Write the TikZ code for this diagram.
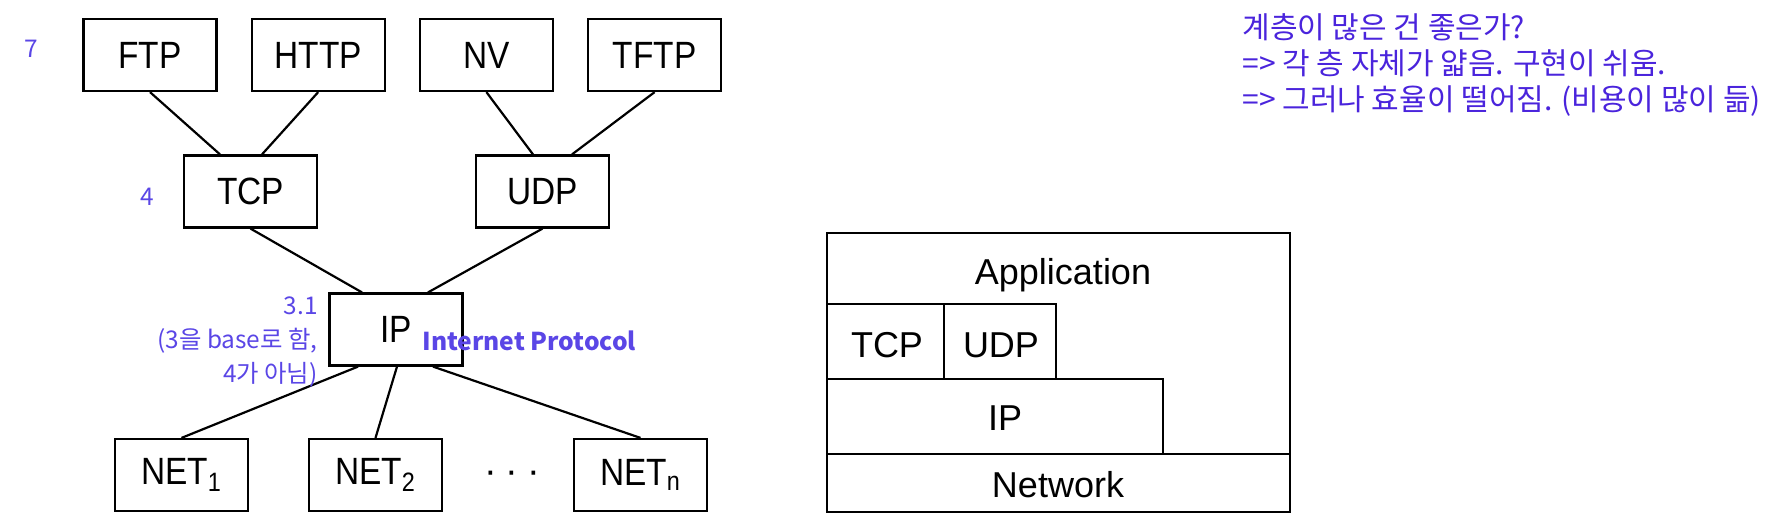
\documentclass[tikz,border=0pt]{standalone}
\usepackage{fontspec}
\setmainfont{Liberation Sans}
\newfontfamily\kofont{Noto Sans CJK KR}
\usepackage{graphicx}
\usepackage{xcolor}
\definecolor{labelblue}{HTML}{5A46E6}
\definecolor{noteblue}{HTML}{4A24DC}
\usepackage{tikz}
\usetikzlibrary{positioning}
\newcommand{\narrowtext}[1]{\scalebox{0.88}[1]{#1}}
\tikzset{
    protobox/.style={
        rectangle,
        draw=black,
        line width=1.1pt,
        minimum width=66.5pt,
        minimum height=36pt,
        inner sep=0pt,
        font=\fontsize{19}{21}\selectfont,
    },
    link/.style={
        line width=1.1pt,
        black,
    },
    layer/.style={
        draw=black,
        line width=1.1pt,
    },
    layertext/.style={
        inner sep=0pt,
        font=\fontsize{18}{20}\selectfont,
    },
    sidelabel/.style={
        text=labelblue,
        inner sep=0pt,
        align=right,
        font=\kofont\fontsize{12.2}{17}\selectfont,
    },
    note/.style={
        text=noteblue,
        inner sep=0pt,
        align=left,
        font=\kofont\fontsize{15}{18}\selectfont,
    },
}

\begin{document}
\begin{tikzpicture}[x=0.5pt, y=-0.5pt]
    \useasboundingbox (0,0) rectangle (1784,527);

    % protocol graph
    \node[protobox] (ftp) at (150,55) {\narrowtext{FTP}};
    \node[protobox, right=16.5pt of ftp] (http) {\narrowtext{HTTP}};
    \node[protobox, right=16.5pt of http] (nv) {\narrowtext{NV}};
    \node[protobox, right=16.5pt of nv] (tftp) {\narrowtext{TFTP}};

    \node[protobox] (tcp) at (250.5,191.5) {\narrowtext{TCP}};
    \node[protobox] (udp) at (542.5,191.5) {\narrowtext{UDP}};

    \node[protobox] (ip) at (396,329.5) {\narrowtext{IP}};

    \node[protobox] (neta) at (181.5,475) {\narrowtext{NET\textsubscript{1}}};
    \node[protobox] (netb) at (375.5,475) {\narrowtext{NET\textsubscript{2}}};
    \node[protobox] (netn) at (640.5,475) {\narrowtext{NET\textsubscript{n}}};
    \node[font=\fontsize{19}{21}\selectfont, inner sep=0pt] (dots) at (512,477) {·\hspace{4.5pt}·\hspace{4.5pt}·};

    \draw[link] (ftp.south) -- ([xshift=-15.25pt]tcp.north);
    \draw[link] (http.south) -- ([xshift=5.75pt]tcp.north);
    \draw[link] (nv.south) -- ([xshift=-4.75pt]udp.north);
    \draw[link] (tftp.south) -- ([xshift=14.75pt]udp.north);
    \draw[link] (tcp.south) -- ([xshift=-17pt]ip.north);
    \draw[link] (udp.south) -- ([xshift=16pt]ip.north);
    \draw[link] ([xshift=-19pt]ip.south) -- (neta.north);
    \draw[link] ([xshift=0.5pt]ip.south) -- (netb.north);
    \draw[link] ([xshift=18.5pt]ip.south) -- (netn.north);

    % layer numbers
    \node[sidelabel] (seven) at (31,49) {7};
    \node[sidelabel] (four) at (147,197) {4};
    \node[sidelabel, anchor=east] (three) at (318,342) {3.1\\(3을 base로 함,\\4가 아님)};
    \node[sidelabel, anchor=base west, font=\kofont\bfseries\fontsize{12.3}{17}\selectfont] (ipname) at (422,350) {Internet Protocol};

    % layer stack
    \draw[layer] (827,233) rectangle (1290,512);
    \draw[layer] (827,304) rectangle (944,379);
    \draw[layer] (944,304) rectangle (1056,379);
    \draw[layer] (827,379) rectangle (1163,454);
    \draw[layer] (827,454) rectangle (1290,512);
    \node[layertext] (app) at (1063,275) {Application};
    \node[layertext] (stcp) at (887,345) {TCP};
    \node[layertext] (sudp) at (1001,345) {UDP};
    \node[layertext] (sip) at (1005,418) {IP};
    \node[layertext] (net) at (1058,485) {Network};

    % notes
    \node[note, anchor=north west] (notes) at (1242,13) {계층이 많은 건 좋은가?\\=> 각 층 자체가 얇음. 구현이 쉬움.\\=> 그러나 효율이 떨어짐. (비용이 많이 듦)};
\end{tikzpicture}
\end{document}
